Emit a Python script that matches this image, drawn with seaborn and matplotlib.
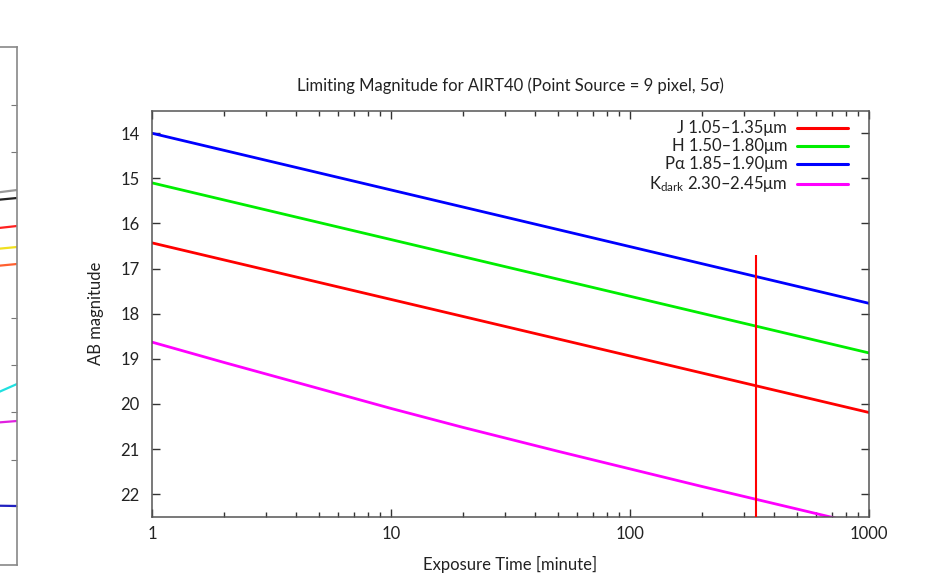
import matplotlib
matplotlib.use("Agg")
import matplotlib.pyplot as plt
import numpy as np
import pandas as pd
import seaborn as sns
from matplotlib.ticker import FixedLocator, NullFormatter, LogLocator

# Limiting AB magnitude vs exposure time (minutes)
EXPOSURE_MIN = [1, 1000]
J_MAG = [16.43, 20.19]
H_MAG = [15.10, 18.87]
PA_MAG = [14.00, 17.77]
KDARK_TIME = [1, 2, 5, 10, 20, 50, 100, 200, 500, 1000]
KDARK_MAG = [18.63, 19.08, 19.66, 20.10, 20.52, 21.05, 21.44, 21.83, 22.33, 22.71]

BANDS = ["J 1.05\u20131.35\u03bcm", "H 1.50\u20131.80\u03bcm",
         "P\u03b1 1.85\u20131.90\u03bcm", r"K$_{\mathrm{dark}}$" + " 2.30\u20132.45\u03bcm"]
COLORS = ["#ff0000", "#00ee00", "#0000ff", "#ff00ff"]

# red marker line at the survey exposure time
MARK_TIME = 336
MARK_TOP = 16.70

X_TICKS = [1, 10, 100, 1000]
Y_TICKS = [14, 15, 16, 17, 18, 19, 20, 21, 22]

# sliver of the neighbouring figure cut at the left edge
FRAG_COLORS = ["#999999", "#222222", "#ff2020", "#f0e020", "#ff6030", "#20e0e0", "#e020e0", "#2020c0"]
FRAG_LEFT = [198, 204, 233, 253, 270, 412, 426, 505]
FRAG_RIGHT = [190, 198, 226, 247, 264, 384, 421, 506]
FRAG_TICKS = [105, 152, 318, 365, 412, 460, 506]

sns.set_style("ticks")
plt.rcParams["font.family"] = ["Lato", "DejaVu Sans"]
plt.rcParams["mathtext.fontset"] = "custom"
plt.rcParams["mathtext.rm"] = "Lato"
plt.rcParams["mathtext.it"] = "Lato:italic"

rows = []
for band, t, m in [(BANDS[0], EXPOSURE_MIN, J_MAG), (BANDS[1], EXPOSURE_MIN, H_MAG),
                   (BANDS[2], EXPOSURE_MIN, PA_MAG), (BANDS[3], KDARK_TIME, KDARK_MAG)]:
    for ti, mi in zip(t, m):
        rows.append({"time": ti, "mag": mi, "band": band})
df = pd.DataFrame(rows)

fig = plt.figure(figsize=(9.28, 5.73), dpi=100)
ax = fig.add_axes([152 / 928, 1 - 516.7 / 573, (869 - 152) / 928, (516.7 - 110.7) / 573])

sns.lineplot(data=df, x="time", y="mag", hue="band", hue_order=BANDS,
             palette=COLORS, linewidth=2.0, legend=False, ax=ax)
ax.vlines(MARK_TIME, MARK_TOP, 22.5, color="#ff0000", linewidth=1.5, zorder=3)

ax.set_xscale("log")
ax.set_xlim(1, 1000)
ax.set_ylim(22.5, 13.5)
ax.xaxis.set_major_locator(FixedLocator(X_TICKS))
ax.set_xticklabels([str(v) for v in X_TICKS])
ax.xaxis.set_minor_locator(LogLocator(base=10, subs=np.arange(2, 10)))
ax.xaxis.set_minor_formatter(NullFormatter())
ax.yaxis.set_major_locator(FixedLocator(Y_TICKS))
ax.tick_params(which="both", direction="in", top=True, right=True,
               color="#333333", width=1.0, labelsize=12, labelcolor="#222222")
ax.tick_params(which="major", length=6)
ax.tick_params(which="minor", length=3.5)
ax.tick_params(axis="y", pad=9)
ax.tick_params(axis="x", pad=7)
for s in ax.spines.values():
    s.set_visible(True)
    s.set_color("#555555")
    s.set_linewidth(1.1)

ax.set_title("Limiting Magnitude for AIRT40 (Point Source = 9 pixel, 5\u03c3)",
             fontsize=12, color="#222222", pad=14)
ax.set_xlabel("Exposure Time [minute]", fontsize=12, color="#222222", labelpad=10)
ax.set_ylabel("AB magnitude", fontsize=12, color="#222222", labelpad=12)

leg = ax.legend(ax.lines[:4], BANDS, loc="upper right", bbox_to_anchor=(0.971, 0.976),
                frameon=False, markerfirst=False, fontsize=12, handlelength=3.05,
                handletextpad=0.6, labelspacing=0.12, borderaxespad=0, borderpad=0)
for h in leg.legend_handles:
    h.set_linewidth(2.2)
for t in leg.get_texts():
    t.set_color("#222222")

# left-edge fragment of the adjacent plot
fa = fig.add_axes([-0.05, 1 - 565 / 573, 0.05 + 17 / 928, (565 - 47) / 573])
for c, yl, yr in zip(FRAG_COLORS, FRAG_LEFT, FRAG_RIGHT):
    fa.plot([0, 1], [yl, yr], color=c, linewidth=1.6)
fa.set_xlim(0, 1)
fa.set_ylim(565, 47)
fa.set_xticks([])
fa.yaxis.tick_right()
fa.set_yticks(FRAG_TICKS)
fa.set_yticklabels([])
fa.tick_params(axis="y", direction="in", length=4, color="#777777")
for s in fa.spines.values():
    s.set_color("#888888")
    s.set_linewidth(1.2)

fig.savefig("out.png", dpi=100)
